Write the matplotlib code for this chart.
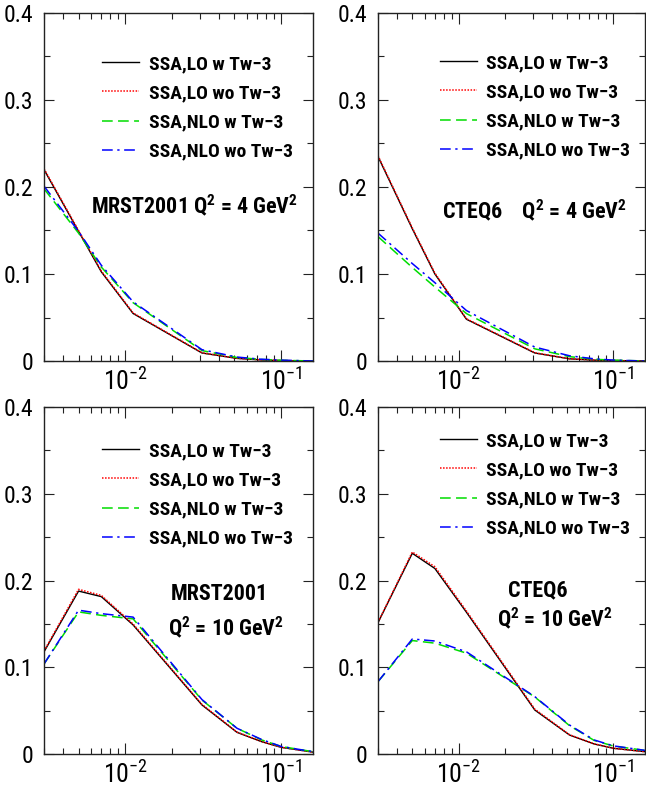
import matplotlib
matplotlib.use("Agg")
import matplotlib.pyplot as plt
from matplotlib.ticker import LogLocator, FixedLocator, MultipleLocator, FuncFormatter
import numpy as np

FONT = ['Roboto Condensed', 'Liberation Sans', 'DejaVu Sans']
plt.rcParams['font.family'] = FONT
plt.rcParams['mathtext.fontset'] = 'custom'
plt.rcParams['mathtext.rm'] = 'Roboto Condensed'
plt.rcParams['mathtext.it'] = 'Roboto Condensed'
plt.rcParams['mathtext.bf'] = 'Roboto Condensed:bold'
plt.rcParams['mathtext.default'] = 'regular'

# x bins
x = [0.003, 0.005, 0.007, 0.0112, 0.031, 0.052, 0.075, 0.1, 0.16]

# MRST2001, Q^2 = 4 GeV^2
mrst4_lo_w = [0.220, 0.149, 0.1025, 0.0546, 0.0092, 0.0030, 0.0012, 0.0005, 0.0]
mrst4_lo_wo = [0.221, 0.150, 0.1035, 0.0552, 0.0095, 0.0031, 0.0013, 0.0005, 0.0]
mrst4_nlo_w = [0.198, 0.147, 0.108, 0.067, 0.012, 0.0040, 0.0018, 0.0008, 0.0]
mrst4_nlo_wo = [0.201, 0.149, 0.110, 0.068, 0.013, 0.0045, 0.0020, 0.0010, 0.0]

# CTEQ6, Q^2 = 4 GeV^2
cteq4_lo_w = [0.235, 0.152, 0.100, 0.048, 0.0092, 0.0025, 0.0010, 0.0005, 0.0]
cteq4_lo_wo = [0.236, 0.153, 0.101, 0.0485, 0.0095, 0.0026, 0.0011, 0.0005, 0.0]
cteq4_nlo_w = [0.143, 0.1075, 0.085, 0.0545, 0.014, 0.0050, 0.0020, 0.0010, 0.0]
cteq4_nlo_wo = [0.147, 0.112, 0.090, 0.058, 0.016, 0.0060, 0.0025, 0.0010, 0.0]

# MRST2001, Q^2 = 10 GeV^2
mrst10_lo_w = [0.118, 0.188, 0.1816, 0.149, 0.0568, 0.0253, 0.0145, 0.0080, 0.0025]
mrst10_lo_wo = [0.119, 0.190, 0.183, 0.150, 0.0575, 0.0256, 0.0147, 0.0081, 0.0025]
mrst10_nlo_w = [0.104, 0.164, 0.160, 0.156, 0.0625, 0.030, 0.0165, 0.0090, 0.0030]
mrst10_nlo_wo = [0.104, 0.166, 0.162, 0.158, 0.063, 0.030, 0.0170, 0.0090, 0.0030]

# CTEQ6, Q^2 = 10 GeV^2
cteq10_lo_w = [0.1516, 0.2315, 0.214, 0.1636, 0.051, 0.0222, 0.0119, 0.0069, 0.0030]
cteq10_lo_wo = [0.152, 0.233, 0.216, 0.165, 0.052, 0.0225, 0.0121, 0.0070, 0.0030]
cteq10_nlo_w = [0.0837, 0.131, 0.128, 0.1165, 0.066, 0.033, 0.016, 0.0095, 0.0045]
cteq10_nlo_wo = [0.0837, 0.1328, 0.1305, 0.118, 0.0664, 0.0337, 0.0165, 0.0097, 0.0045]

labels = ["SSA,LO w Tw\u22123", "SSA,LO wo Tw\u22123", "SSA,NLO w Tw\u22123", "SSA,NLO wo Tw\u22123"]

panels = [
    dict(pos=[44/646, 1-361/794, 269/646, 348/794],
         series=[mrst4_lo_w, mrst4_lo_wo, mrst4_nlo_w, mrst4_nlo_wo],
         leg=(0.2156, 1-(63-13-8)/348),
         texts=[("MRST2001 Q$^2$ = 4 GeV$^2$", 0.558, 0.448)]),
    dict(pos=[378/646, 1-361/794, 267/646, 348/794],
         series=[cteq4_lo_w, cteq4_lo_wo, cteq4_nlo_w, cteq4_nlo_wo],
         leg=(0.231, 1-(62-13-8)/348),
         texts=[("CTEQ6    Q$^2$ = 4 GeV$^2$", 0.587, 0.432)]),
    dict(pos=[44/646, 1-754.3/794, 269/646, 347.3/794],
         series=[mrst10_lo_w, mrst10_lo_wo, mrst10_nlo_w, mrst10_nlo_wo],
         leg=(0.2156, 1-(450-407-8)/347.3),
         texts=[("MRST2001", 0.651, 0.462), ("Q$^2$ = 10 GeV$^2$", 0.678, 0.3665)]),
    dict(pos=[378/646, 1-754.3/794, 267/646, 347.3/794],
         series=[cteq10_lo_w, cteq10_lo_wo, cteq10_nlo_w, cteq10_nlo_wo],
         leg=(0.231, 1-(440-407-8)/347.3),
         texts=[("CTEQ6", 0.599, 0.472), ("Q$^2$ = 10 GeV$^2$", 0.661, 0.390)]),
]

styles = [
    dict(color='black', lw=1.0, ls='-'),
    dict(color='red', lw=1.1, ls=(0, (1, 1))),
    dict(color='#00dd00', lw=1.1, ls=(0, (7, 3.5))),
    dict(color='blue', lw=1.1, ls=(0, (7, 3, 1.5, 3))),
]

fig = plt.figure(figsize=(6.46, 7.94), dpi=100)

def yfmt(v, p):
    if abs(v) < 1e-9:
        return "0"
    return f"{v:.1f}"

def xfmt(v, p):
    e = int(round(np.log10(v)))
    return "$10^{-%d}$" % (-e)

for pn in panels:
    ax = fig.add_axes(pn['pos'])
    for s, st in zip(pn['series'], styles):
        ax.plot(x, s, **st)
    ax.set_xscale('log')
    ax.set_xlim(0.003, 0.16)
    ax.set_ylim(0, 0.4)
    ax.yaxis.set_major_locator(MultipleLocator(0.1))
    ax.yaxis.set_minor_locator(MultipleLocator(0.05))
    ax.yaxis.set_major_formatter(FuncFormatter(yfmt))
    ax.xaxis.set_major_locator(FixedLocator([0.01, 0.1]))
    ax.xaxis.set_minor_locator(LogLocator(base=10, subs=np.arange(2, 10), numticks=20))
    ax.xaxis.set_major_formatter(FuncFormatter(xfmt))
    ax.tick_params(which='both', direction='in', top=True, right=True, width=0.8, color='#222222')
    ax.tick_params(axis='y', which='major', length=7, pad=8, labelsize=17)
    ax.tick_params(axis='x', which='major', length=8, pad=5, labelsize=18.5)
    ax.tick_params(which='minor', length=4.5)
    for sp in ax.spines.values():
        sp.set_linewidth(1.0)
        sp.set_color('#222222')
    leg = ax.legend(labels, loc='upper left', bbox_to_anchor=pn['leg'], frameon=False,
                    borderpad=0, borderaxespad=0, handlelength=1.9, handletextpad=0.5,
                    labelspacing=0.58, prop=dict(family=FONT, weight='bold', size=14))
    for t, tx, ty in pn['texts']:
        ax.text(tx, ty, t, transform=ax.transAxes, ha='center', va='center',
                fontsize=15.8, fontweight='bold')

fig.savefig("out.png", dpi=100)
